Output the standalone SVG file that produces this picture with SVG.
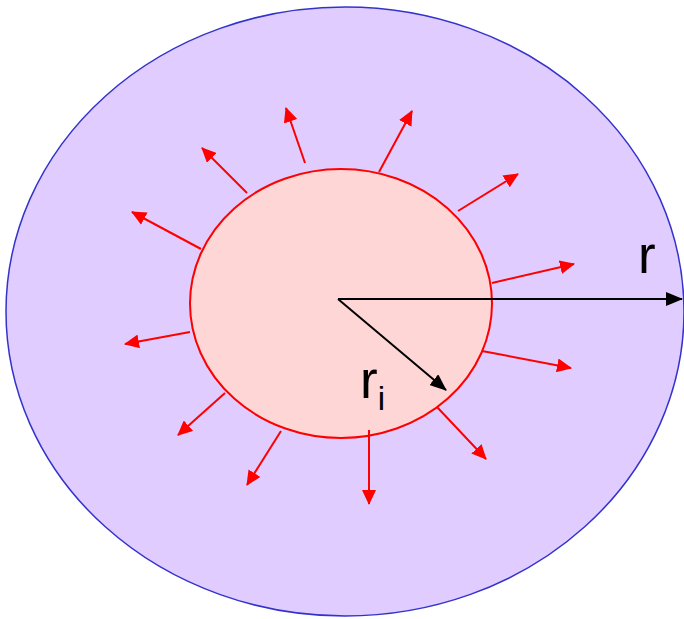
<svg xmlns="http://www.w3.org/2000/svg" width="684" height="619" viewBox="0 0 684 619">
<style>
.red{stroke:#FF0000;stroke-width:2;fill:none;marker-end:url(#rh)}
.blk{stroke:#000;stroke-width:2;fill:none;marker-end:url(#bh)}
.lbl{font-family:"Liberation Sans",Arial,sans-serif;fill:#000}
</style>
<defs>
<marker id="rh" markerUnits="userSpaceOnUse" markerWidth="15" markerHeight="14" refX="14" refY="7" orient="auto"><path d="M0,0 L15,7 L0,14 z" fill="#FF0000"/></marker>
<marker id="bh" markerUnits="userSpaceOnUse" markerWidth="17" markerHeight="14" refX="16" refY="7" orient="auto"><path d="M0,0 L17,7 L0,14 z" fill="#000"/></marker>
</defs>
<g id="outer"><ellipse cx="345" cy="311.5" rx="339" ry="304.5" fill="#E0CCFF" stroke="#3333CC" stroke-width="1.5"/></g>
<g id="inner"><ellipse cx="341" cy="303.5" rx="151" ry="134.5" fill="#FFD6D6" stroke="#FF0000" stroke-width="2"/></g>
<g id="connectors">
<line class="red" x1="305" y1="163" x2="286" y2="108"/>
<line class="red" x1="379" y1="172" x2="412" y2="111"/>
<line class="red" x1="458" y1="211" x2="518" y2="174"/>
<line class="red" x1="492" y1="283" x2="574" y2="264"/>
<line class="red" x1="482" y1="351" x2="571" y2="368"/>
<line class="red" x1="437" y1="407" x2="486" y2="459"/>
<line class="red" x1="369" y1="430" x2="369" y2="504"/>
<line class="red" x1="281" y1="431" x2="247" y2="485"/>
<line class="red" x1="225" y1="393" x2="178" y2="435"/>
<line class="red" x1="190" y1="332" x2="125" y2="344"/>
<line class="red" x1="201" y1="249" x2="132" y2="212"/>
<line class="red" x1="247" y1="193" x2="202" y2="148"/>
<line class="blk" x1="338" y1="299" x2="682" y2="299"/>
<line class="blk" x1="338" y1="299" x2="446" y2="390"/>
</g>
<g id="labels">
<text class="lbl" x="638" y="273" font-size="53">r</text>
<text class="lbl" x="360" y="398" font-size="53">r<tspan font-size="33" dy="12">i</tspan></text>
</g>
</svg>
